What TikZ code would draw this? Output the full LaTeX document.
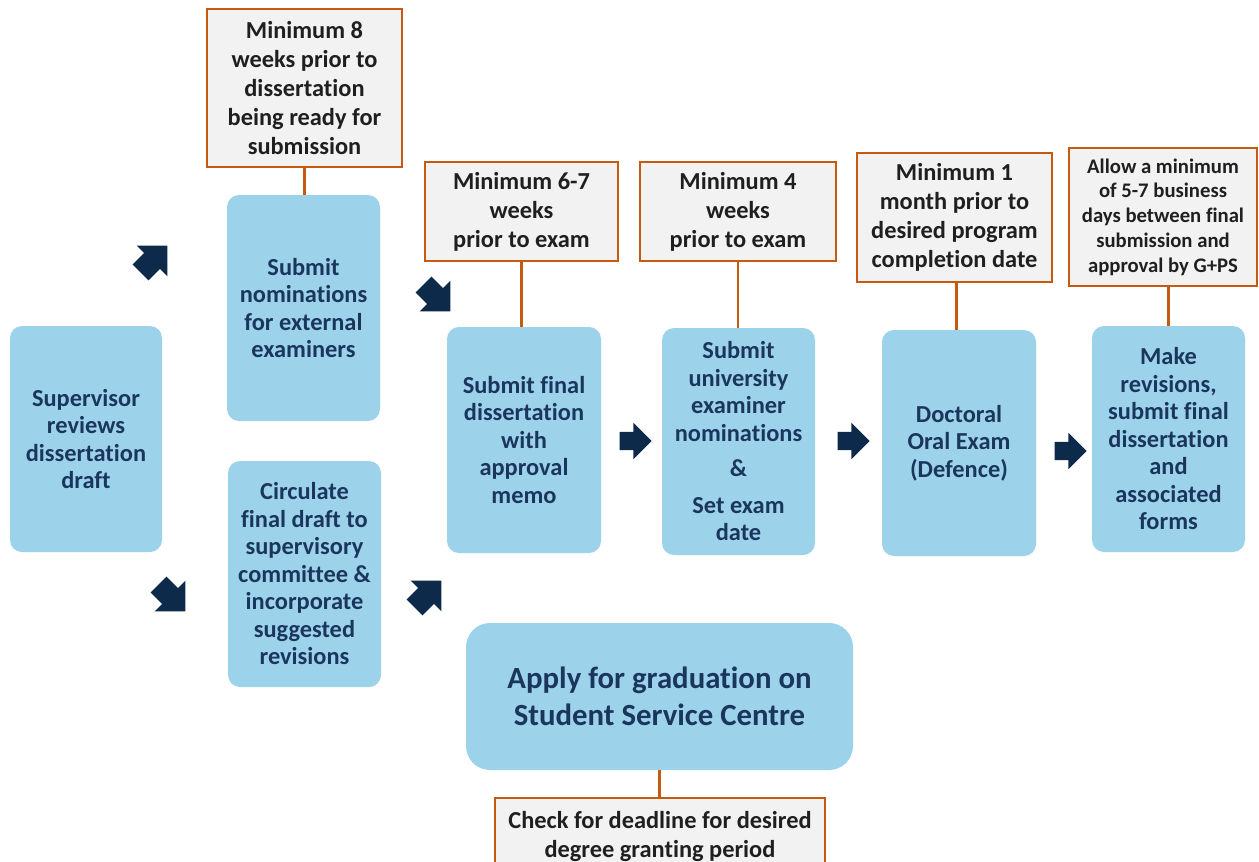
\documentclass[tikz,border=0pt]{standalone}
\usepackage{fontspec}
\setmainfont{Carlito}[Ligatures={NoCommon}]
\usetikzlibrary{shapes.arrows}
\definecolor{bluebox}{HTML}{9DD3EA}
\definecolor{navytext}{HTML}{1B365D}
\definecolor{arrowc}{HTML}{0E2A4B}
\definecolor{orangeb}{HTML}{C55A11}
\definecolor{greyfill}{HTML}{F2F2F2}
\begin{document}
\begin{tikzpicture}[x=1pt,y=-1pt,
 stepbox/.style={fill=bluebox, rounded corners=12pt, text=navytext, align=center, font=\bfseries\fontsize{24.4}{27.5}\selectfont, inner sep=0pt},
 notebox/.style={fill=greyfill, draw=orangeb, line width=2pt, text=black!88, align=center, font=\bfseries\fontsize{24.4}{29}\selectfont, inner sep=0pt},
 link/.style={draw=orangeb, line width=2.5pt},
 blockarrow/.style={single arrow, fill=arrowc, draw=none, inner xsep=0pt, inner ysep=9pt, minimum height=32pt, single arrow head extend=9pt},
 diagarrow/.style={blockarrow, inner ysep=11pt, minimum height=38pt, single arrow head extend=10.5pt}]
\clip (0,0) rectangle (1259,862);
\fill[white] (0,0) rectangle (1259,862);

% blue step boxes
\node[stepbox, minimum width=152pt, minimum height=226pt] (sup) at (86,439) {Supervisor\\reviews\\dissertation\\draft};
\node[stepbox, minimum width=153pt, minimum height=226pt] (nom) at (303.5,308) {Submit\\nominations\\for external\\examiners};
\node[stepbox, minimum width=153pt, minimum height=226pt] (circ) at (304.5,574) {Circulate\\final draft to\\supervisory\\committee \&\\incorporate\\suggested\\revisions};
\node[stepbox, minimum width=154pt, minimum height=226pt] (final) at (524,440) {Submit final\\dissertation\\with\\approval\\memo};
\node[stepbox, minimum width=153pt, minimum height=227pt] (univ) at (738.5,441.5) {Submit\\university\\examiner\\nominations\\[8pt]\&\\[9pt]Set exam\\date};
\node[stepbox, minimum width=154pt, minimum height=226pt] (oral) at (959,443) {Doctoral\\Oral Exam\\(Defence)};
\node[stepbox, minimum width=153pt, minimum height=226pt] (make) at (1168.5,439) {Make\\revisions,\\submit final\\dissertation\\and\\associated\\forms};
\node[stepbox, rounded corners=24pt, minimum width=387pt, minimum height=147pt, font=\bfseries\fontsize{30.8}{37}\selectfont] (apply) at (659.5,696.5) {Apply for graduation on\\Student Service Centre};

% orange note boxes
\node[notebox, minimum width=195pt, minimum height=158pt] (A) at (304.5,88) {Minimum 8\\weeks prior to\\dissertation\\being ready for\\submission};
\node[notebox, minimum width=193pt, minimum height=99pt] (B) at (521.5,211.5) {Minimum 6-7\\weeks\\prior to exam};
\node[notebox, minimum width=196pt, minimum height=99pt] (C) at (738,211.5) {Minimum 4\\weeks\\prior to exam};
\node[notebox, minimum width=195pt, minimum height=129pt] (D) at (954.5,217.5) {Minimum 1\\month prior to\\desired program\\completion date};
\node[notebox, minimum width=188pt, minimum height=138pt, font=\bfseries\fontsize{20.7}{24.75}\selectfont] (E) at (1163,217) {Allow a minimum\\of 5-7 business\\days between final\\submission and\\approval by G+PS};
\node[notebox, minimum width=330pt, minimum height=76pt] (F) at (660,836) {Check for deadline for desired\\degree granting period};

% orange connectors
\draw[link] (A.south) -- (A.south |- nom.north);
\draw[link] (B.south) -- (B.south |- final.north);
\draw[link] (C.south) -- (C.south |- univ.north);
\draw[link] ([xshift=2pt]D.south) -- ([xshift=2pt]D.south |- oral.north);
\draw[link] (make.north |- E.south) -- (make.north);
\draw[link] (apply.south) -- (apply.south |- F.north);

% block arrows
\node[diagarrow, rotate=45] (ar1) at (150,263) {};
\node[diagarrow, rotate=-45] (ar2) at (168,594) {};
\node[diagarrow, rotate=-45] (ar3) at (433,294) {};
\node[diagarrow, rotate=45] (ar4) at (424,598) {};
\node[blockarrow] (ar5) at (631,441) {};
\node[blockarrow] (ar6) at (849,441) {};
\node[blockarrow] (ar7) at (1066,451) {};
\end{tikzpicture}
\end{document}
